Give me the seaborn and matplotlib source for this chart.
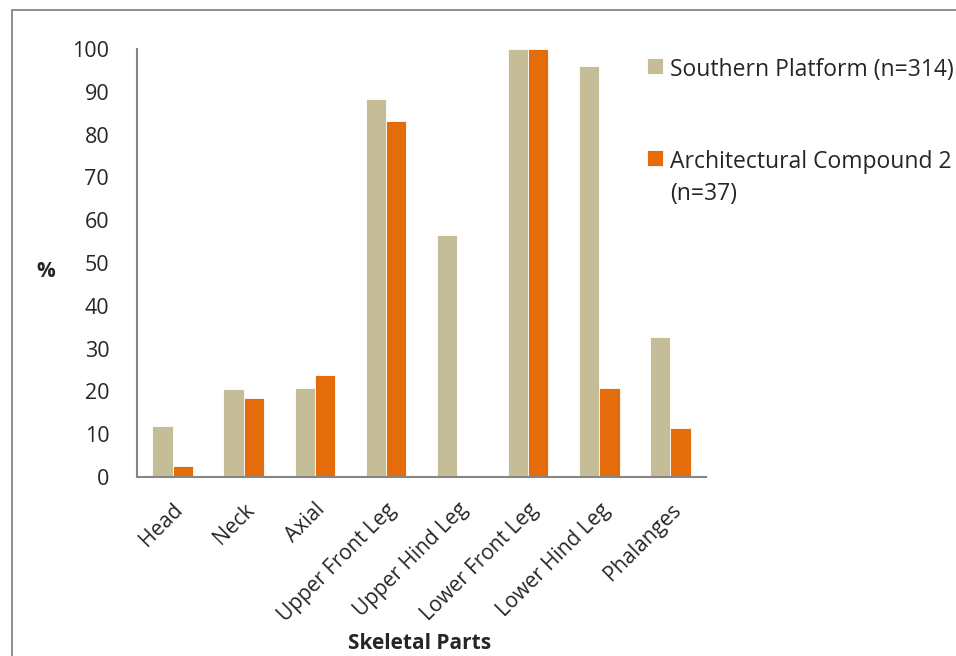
import numpy as np
import pandas as pd
import matplotlib
matplotlib.use("Agg")
import matplotlib.pyplot as plt
import seaborn as sns
from matplotlib.patches import Rectangle

# skeletal part categories
parts = ["Head", "Neck", "Axial", "Upper Front Leg", "Upper Hind Leg",
         "Lower Front Leg", "Lower Hind Leg", "Phalanges"]

# percent values
southern = [12.0, 20.5, 20.9, 88.3, 56.6, 100.0, 96.1, 32.7]
compound = [2.5, 18.4, 23.8, 83.2, 0.0, 100.0, 20.8, 11.4]

series_names = ["Southern Platform (n=314)", "Architectural Compound 2\n(n=37)"]
colors = ["#C4BD97", "#E46C0A"]

df = pd.DataFrame({
    "Part": parts * 2,
    "Percent": southern + compound,
    "Site": [series_names[0]] * len(parts) + [series_names[1]] * len(parts),
})

sns.set_style("white")
plt.rcParams['font.family'] = ['Open Sans', 'DejaVu Sans']

fig = plt.figure(figsize=(9.56, 6.56), dpi=100)
ax = fig.add_axes([137/956, 1-477/656, (706-137)/956, (477-49)/656])

sns.barplot(data=df, x="Part", y="Percent", hue="Site", order=parts,
            hue_order=series_names, palette=colors, width=0.57, gap=0,
            edgecolor="white", linewidth=0.6, saturation=1, ax=ax)

grey = "#868686"
ax.set_ylim(0, 100)
ax.set_xlim(-0.5, len(parts) - 0.5)
ax.set_yticks(np.arange(0, 101, 10))
ax.tick_params(axis="y", direction="out", length=7, width=1.3, color=grey,
               labelsize=15.5, pad=13)

# labels at centres, tick marks at category borders
ax.set_xticks(range(len(parts)))
ax.set_xticklabels(parts, rotation=45, ha="right", rotation_mode="anchor",
                   fontsize=15)
ax.tick_params(axis="x", length=0, pad=16)
ax.set_xticks(np.arange(-0.5, len(parts)), minor=True)
ax.tick_params(axis="x", which="minor", direction="out", length=7,
               width=1.3, color=grey)

for side in ["top", "right"]:
    ax.spines[side].set_visible(False)
for side in ["left", "bottom"]:
    ax.spines[side].set_color(grey)
    ax.spines[side].set_linewidth(1.5)

ax.set_ylabel("%", rotation=0, fontsize=15, fontweight="bold", va="center")
ax.yaxis.set_label_coords(-0.16, 0.48)
ax.set_xlabel("Skeletal Parts", fontsize=15, fontweight="bold", va="center")
ax.xaxis.set_label_coords(0.497, -0.39)

leg = ax.legend(loc="upper left", bbox_to_anchor=(0.896, 0.978), frameon=False,
                fontsize=16.5, handlelength=0.7, handleheight=0.7,
                handletextpad=0.3, labelspacing=2.95, borderaxespad=0,
                borderpad=0)
for t in leg.get_texts():
    t.set_linespacing(1.45)
# keep the square next to the first line of a wrapped label
for col in leg._legend_handle_box.get_children():
    for row in col.get_children():
        row.align = "top"

# outer chart border (runs off the right and bottom edges)
fig.patches.append(Rectangle((12/956, -0.05), 1.1, 1 - 10/656 + 0.05,
                             transform=fig.transFigure, fill=False,
                             edgecolor=grey, linewidth=1.3, clip_on=False))

fig.savefig("out.png", dpi=100)
